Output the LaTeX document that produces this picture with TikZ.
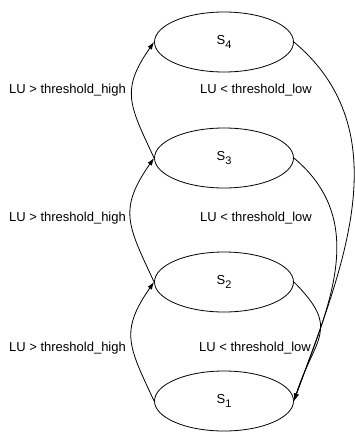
\documentclass[tikz,border=0pt]{standalone}
\usepackage{fontspec}
\setmainfont{Liberation Sans}
\usetikzlibrary{arrows.meta,shapes.geometric}
\newcommand{\statelabel}[1]{S\raisebox{-4pt}{\fontsize{11}{12}\selectfont #1}}
\begin{document}
\begin{tikzpicture}[x=1pt,y=1pt,
  state/.style={draw, ellipse, minimum width=139pt, minimum height=60pt,
    inner sep=0pt, line width=0.8pt, font=\fontsize{13}{15}\selectfont},
  cond/.style={font=\fontsize{13}{15}\selectfont, inner sep=0pt},
  trans/.style={draw, line width=0.8pt, -{Latex[length=7.5pt,width=5pt]}}]
\useasboundingbox (0,0) rectangle (354,-433);

% states, top to bottom
\node[state] (s4) at (224,-42)  {\statelabel{4}};
\node[state] (s3) at (224,-158) {\statelabel{3}};
\node[state] (s2) at (224,-282) {\statelabel{2}};
\node[state] (s1) at (224,-401) {\statelabel{1}};

% step-up transitions on the left
\draw[trans] (s1.west) to[out=115,in=235,looseness=1.3] (s2.west);
\draw[trans] (s2.west) to[out=115,in=235,looseness=1.3] (s3.west);
\draw[trans] (s3.west) to[out=115,in=235,looseness=1.3] (s4.west);

% fall-back transitions on the right, all into S1
\draw[trans] (s4.east) to[out=-40,in=70] (s1.east);
\draw[trans] (s3.east) to[out=-40,in=70,looseness=1.05] (s1.east);
\draw[trans] (s2.east) to[out=-45,in=72,looseness=1.45] (s1.east);

% conditions
\node[cond] (h3) at (67.5,-90)  {LU > threshold\_high};
\node[cond] (h2) at (67.5,-218) {LU > threshold\_high};
\node[cond] (h1) at (67.5,-348) {LU > threshold\_high};
\node[cond] (l3) at (256,-90)  {LU < threshold\_low};
\node[cond] (l2) at (256,-218) {LU < threshold\_low};
\node[cond] (l1) at (255,-348) {LU < threshold\_low};
\end{tikzpicture}
\end{document}
